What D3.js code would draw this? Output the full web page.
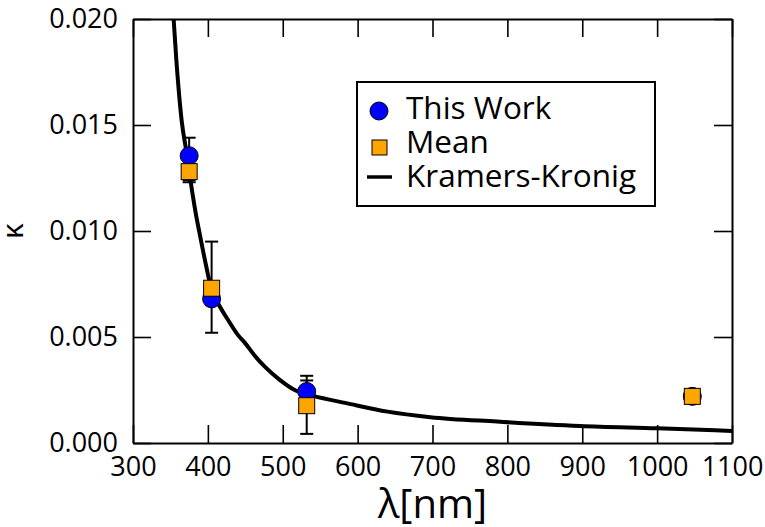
<!DOCTYPE html>
<html>
<head>
<meta charset="utf-8">
<script src="https://cdn.jsdelivr.net/npm/d3@7"></script>
<style>
  body { margin: 0; background: #fff; }
  svg { display: block; }
  text { font-family: "Open Sans", "Noto Sans", sans-serif; fill: #000; }
</style>
</head>
<body>
<svg id="chart" width="765" height="527"></svg>
<script>
// Measured extinction coefficient κ at four laser wavelengths
const wavelengths = [375, 405, 532, 1047];
const thisWork = [0.01355, 0.0068, 0.00243, 0.0022];
const thisWorkLow = [0.0124, 0.0065, 0.0017, null];
const thisWorkHigh = [0.0144, 0.0071, 0.00317, null];

// Mean of literature values at the same wavelengths
const meanValues = [0.0128, 0.0073, 0.00176, 0.0022];
const meanLow = [0.0123, 0.0052, 0.00043, null];
const meanHigh = [0.0133, 0.0095, 0.00295, null];

// Kramers-Kronig derived κ(λ)
const kkWavelengths = [352, 358, 365, 372, 378, 383, 390, 398, 405, 415, 427, 440, 450, 463, 476, 496, 516, 541, 585, 640, 697, 786, 897, 1000, 1100];
const kkValues = [0.0212, 0.0180, 0.0152, 0.0136, 0.0121, 0.0110, 0.0097, 0.0083, 0.0072, 0.0065, 0.0058, 0.0051, 0.0047, 0.0041, 0.0036, 0.00298, 0.0025, 0.00222, 0.00188, 0.00148, 0.00122, 0.00101, 0.00080, 0.00069, 0.00057];

const xTicks = [300, 400, 500, 600, 700, 800, 900, 1000, 1100];
const yTicks = [0, 0.005, 0.010, 0.015, 0.020];

const svg = d3.select("#chart");
const plotLeft = 133, plotRight = 732, plotTop = 19, plotBottom = 443;

const x = d3.scaleLinear().domain([300, 1100]).range([plotLeft, plotRight]);
const y = d3.scaleLinear().domain([0, 0.02]).range([plotBottom, plotTop]);

const tickLen = 18;

function styleAxis(g) {
  g.attr("font-family", null);
  g.select(".domain").attr("stroke", "#000").attr("stroke-width", 2);
  g.selectAll(".tick line").attr("stroke", "#000").attr("stroke-width", 1.6);
  g.selectAll(".tick text").attr("font-size", 27).attr("fill", "#000");
}

// Bottom axis with labels
svg.append("g")
  .attr("transform", `translate(0,${plotBottom})`)
  .call(d3.axisBottom(x).tickValues(xTicks).tickSize(-tickLen).tickSizeOuter(0).tickPadding(14).tickFormat(d3.format("d")))
  .call(styleAxis);

// Top mirror axis
svg.append("g")
  .attr("transform", `translate(0,${plotTop})`)
  .call(d3.axisTop(x).tickValues(xTicks).tickSize(-tickLen).tickSizeOuter(0).tickFormat(""))
  .call(styleAxis);

// Left axis with labels
svg.append("g")
  .attr("transform", `translate(${plotLeft},0)`)
  .call(d3.axisLeft(y).tickValues(yTicks).tickSize(-tickLen).tickSizeOuter(0).tickPadding(15).tickFormat(d3.format(".3f")))
  .call(styleAxis);

// Right mirror axis
svg.append("g")
  .attr("transform", `translate(${plotRight},0)`)
  .call(d3.axisRight(y).tickValues(yTicks).tickSize(-tickLen).tickSizeOuter(0).tickFormat(""))
  .call(styleAxis);

// Axis titles
svg.append("text")
  .attr("x", (plotLeft + plotRight) / 2)
  .attr("y", 518)
  .attr("text-anchor", "middle")
  .attr("font-size", 40)
  .text("λ[nm]");

svg.append("text")
  .attr("transform", "translate(23,231) rotate(-90)")
  .attr("text-anchor", "middle")
  .attr("font-size", 30)
  .text("κ");

// Plot clip
svg.append("clipPath").attr("id", "plot-clip")
  .append("rect").attr("x", plotLeft).attr("y", plotTop)
  .attr("width", plotRight - plotLeft).attr("height", plotBottom - plotTop);

const kkData = kkWavelengths.map((w, i) => ({ w, k: kkValues[i] }));
svg.append("path")
  .datum(kkData)
  .attr("clip-path", "url(#plot-clip)")
  .attr("fill", "none")
  .attr("stroke", "#000")
  .attr("stroke-width", 4)
  .attr("d", d3.line().x(d => x(d.w)).y(d => y(d.k)).curve(d3.curveMonotoneX));

// Error bars
const capHalf = 6.5;
function errorBars(lo, hi) {
  const rows = wavelengths.map((w, i) => ({ w, lo: lo[i], hi: hi[i] })).filter(d => d.lo != null);
  const g = svg.append("g").attr("stroke", "#000").attr("stroke-width", 2);
  rows.forEach(d => {
    const cx = x(d.w);
    g.append("line").attr("x1", cx).attr("x2", cx).attr("y1", y(d.lo)).attr("y2", y(d.hi));
    g.append("line").attr("x1", cx - capHalf).attr("x2", cx + capHalf).attr("y1", y(d.lo)).attr("y2", y(d.lo));
    g.append("line").attr("x1", cx - capHalf).attr("x2", cx + capHalf).attr("y1", y(d.hi)).attr("y2", y(d.hi));
  });
}
errorBars(thisWorkLow, thisWorkHigh);
errorBars(meanLow, meanHigh);

// This Work markers
svg.append("g").selectAll("circle")
  .data(wavelengths.map((w, i) => ({ w, k: thisWork[i] })))
  .join("circle")
  .attr("cx", d => x(d.w))
  .attr("cy", d => y(d.k))
  .attr("r", 9)
  .attr("fill", "#0000ff")
  .attr("stroke", "#000")
  .attr("stroke-width", 1);

// Mean markers
const sq = 16;
svg.append("g").selectAll("rect")
  .data(wavelengths.map((w, i) => ({ w, k: meanValues[i] })))
  .join("rect")
  .attr("x", d => x(d.w) - sq / 2)
  .attr("y", d => y(d.k) - sq / 2)
  .attr("width", sq)
  .attr("height", sq)
  .attr("fill", "#ffa500")
  .attr("stroke", "#000")
  .attr("stroke-width", 1);

// Legend
const legend = svg.append("g");
legend.append("rect")
  .attr("x", 357).attr("y", 82).attr("width", 298).attr("height", 124)
  .attr("fill", "#fff").attr("stroke", "#000").attr("stroke-width", 2);
legend.append("circle").attr("cx", 379).attr("cy", 111).attr("r", 9)
  .attr("fill", "#0000ff").attr("stroke", "#000").attr("stroke-width", 1);
legend.append("rect").attr("x", 372).attr("y", 140).attr("width", 15).attr("height", 15)
  .attr("fill", "#ffa500").attr("stroke", "#000").attr("stroke-width", 1);
legend.append("line").attr("x1", 367).attr("x2", 392).attr("y1", 177).attr("y2", 177)
  .attr("stroke", "#000").attr("stroke-width", 3.5);
const legendLabels = ["This Work", "Mean", "Kramers-Kronig"];
const legendBaselines = [119, 153, 187];
legendLabels.forEach((t, i) => {
  legend.append("text").attr("x", 406).attr("y", legendBaselines[i]).attr("font-size", 31.5).text(t);
});
</script>
</body>
</html>
